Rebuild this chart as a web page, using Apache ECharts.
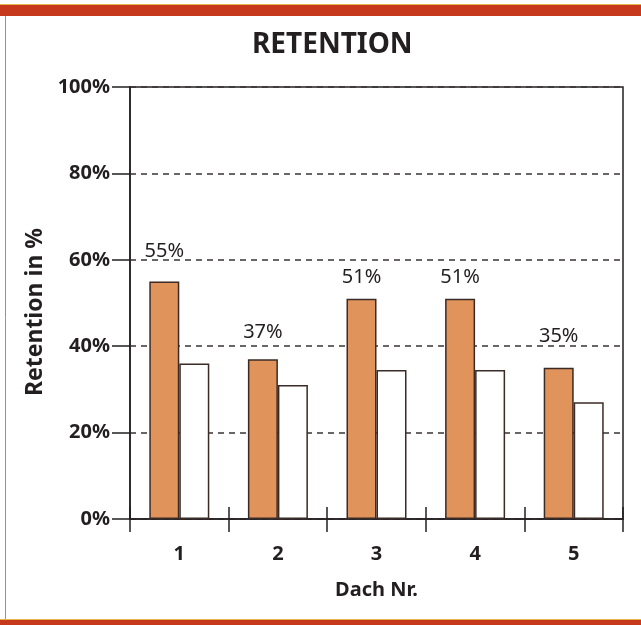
<!DOCTYPE html>
<html>
<head>
<meta charset="utf-8">
<title>Retention</title>
<script src="https://cdn.jsdelivr.net/npm/echarts@6/dist/echarts.min.js"></script>
<style>
  html, body { margin: 0; padding: 0; background: #fff; }
  #chart { width: 641px; height: 625px; }
</style>
</head>
<body>
<div id="chart"></div>
<script>
// Roof numbers on the x axis
const roofs = ['1', '2', '3', '4', '5'];
// Retention per roof, in percent (labelled series first)
const retentionA = [55, 37, 51, 51, 35];
const retentionB = [36, 31, 34.5, 34.5, 27];
// Y axis ticks
const yTicks = [0, 20, 40, 60, 80, 100];

// Space between each bar top and its value label (px)
const labelLift = [20, 17, 11, 11, 22];

const FONT = 'Noto Sans';
const INK = '#231f20';
const BAR_EDGE = '#3b2b27';

const chart = echarts.init(document.getElementById('chart'), null, { renderer: 'canvas' });

chart.setOption({
  animation: false,
  backgroundColor: '#ffffff',
  textStyle: { fontFamily: FONT },
  title: {
    text: 'RETENTION',
    left: 247,
    top: 26,
    textStyle: { fontFamily: FONT, fontSize: 28, fontWeight: 'bold', color: INK }
  },
  graphic: [
    // printed frame: red bands top and bottom, thin rule on the left
    { type: 'rect', shape: { x: 0, y: 4, width: 641, height: 1.5 }, style: { fill: '#e6b84a' }, silent: true },
    { type: 'rect', shape: { x: 0, y: 5, width: 641, height: 11 }, style: { fill: '#c6391c' }, silent: true },
    { type: 'rect', shape: { x: 0, y: 619, width: 641, height: 1 }, style: { fill: '#e6b84a' }, silent: true },
    { type: 'rect', shape: { x: 0, y: 620, width: 641, height: 5 }, style: { fill: '#c6391c' }, silent: true },
    { type: 'line', shape: { x1: 5.5, y1: 16, x2: 5.5, y2: 619 }, style: { stroke: '#9a9090', lineWidth: 1 }, silent: true }
  ],
  grid: {
    left: 130,
    top: 87,
    right: 18,
    bottom: 106,
    show: true,
    borderColor: INK,
    borderWidth: 1.5,
    backgroundColor: 'transparent'
  },
  xAxis: [
    {
      type: 'category',
      data: roofs,
      boundaryGap: true,
      name: 'Dach Nr.',
      nameLocation: 'middle',
      nameGap: 61,
      nameTextStyle: { fontFamily: FONT, fontSize: 20, fontWeight: 'bold', color: INK },
      axisLine: { show: true, lineStyle: { color: INK, width: 1.5 } },
      axisTick: { show: true, alignWithLabel: false, length: 13, inside: false, lineStyle: { color: INK, width: 1.5 } },
      axisLabel: { margin: 25, fontFamily: FONT, fontSize: 20, fontWeight: 'bold', color: INK },
      splitLine: { show: false }
    },
    {
      // companion axis: the part of each boundary tick above the baseline
      type: 'category',
      data: roofs,
      position: 'bottom',
      boundaryGap: true,
      axisLine: { show: false },
      axisTick: { show: true, length: 12, inside: true, lineStyle: { color: INK, width: 1.5 } },
      axisLabel: { show: false },
      splitLine: { show: false }
    }
  ],
  yAxis: {
    type: 'value',
    min: yTicks[0],
    max: yTicks[yTicks.length - 1],
    interval: yTicks[1] - yTicks[0],
    name: 'Retention in %',
    nameLocation: 'middle',
    nameGap: 83,
    nameTextStyle: {
      fontFamily: FONT,
      fontSize: 23,
      fontWeight: 'bold',
      color: INK,
      padding: [0, 18, 0, 0]
    },
    axisLine: { show: true, lineStyle: { color: INK, width: 1.5 } },
    axisTick: { show: true, length: 18, inside: false, lineStyle: { color: INK, width: 1.5 } },
    axisLabel: {
      margin: 20,
      fontFamily: FONT,
      fontSize: 20,
      fontWeight: 'bold',
      color: INK,
      formatter: '{value}%'
    },
    splitLine: { show: true, lineStyle: { color: '#3a3434', width: 1.5, type: [6, 5] } }
  },
  series: [
    {
      name: 'A',
      type: 'bar',
      xAxisIndex: 0,
      barWidth: 30,
      barGap: '0%',
      itemStyle: { color: '#e0935a', borderColor: BAR_EDGE, borderWidth: 1.5 },
      label: {
        show: true,
        position: 'top',
        formatter: '{c}%',
        fontFamily: FONT,
        fontSize: 20,
        fontWeight: 'normal',
        color: INK
      },
      data: retentionA.map((v, i) => ({ value: v, label: { distance: labelLift[i] } }))
    },
    {
      name: 'B',
      type: 'bar',
      xAxisIndex: 0,
      barWidth: 30,
      barGap: '0%',
      itemStyle: { color: '#ffffff', borderColor: BAR_EDGE, borderWidth: 1.5 },
      data: retentionB
    }
  ]
});
</script>
</body>
</html>
